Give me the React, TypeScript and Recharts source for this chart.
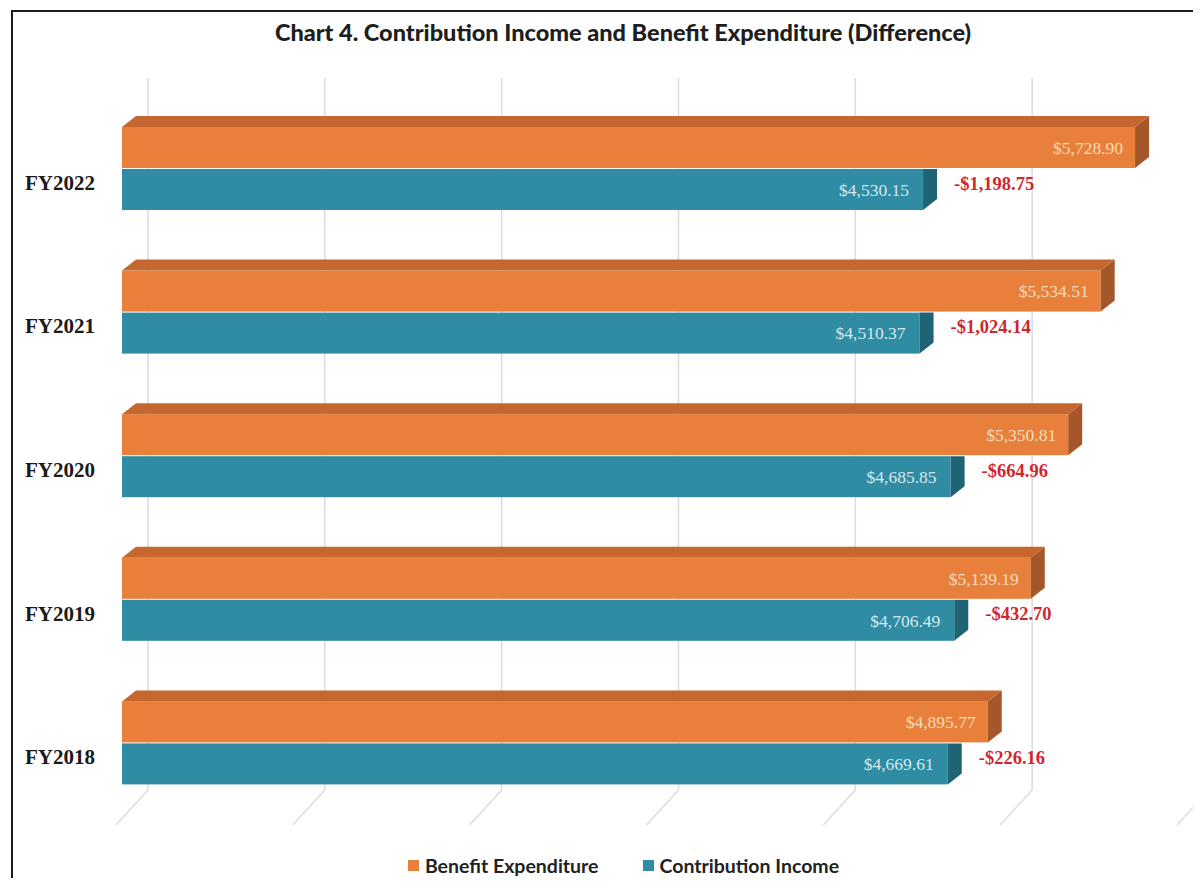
import { BarChart, Bar, XAxis, YAxis, CartesianGrid, LabelList, Legend } from 'recharts'

const years = ['FY2018', 'FY2019', 'FY2020', 'FY2021', 'FY2022']
const benefitExpenditure = [4895.77, 5139.19, 5350.81, 5534.51, 5728.9]
const contributionIncome = [4669.61, 4706.49, 4685.85, 4510.37, 4530.15]
const xTicks = [0, 1000, 2000, 3000, 4000, 5000, 6000]

const ORANGE = { face: '#e8803b', top: '#c6672f', side: '#a65729' }
const TEAL = { face: '#2f8ca2', side: '#1f6475' }

// fake 3d: bar depth and how far the back wall sits behind the bars
const DX = 14
const DY = 11
const WALL = 26

const data = years.map((year, i) => ({
  year,
  benefit: benefitExpenditure[i],
  contribution: contributionIncome[i],
  difference: Math.round((contributionIncome[i] - benefitExpenditure[i]) * 100) / 100,
}))

const money = (v: number) =>
  (v < 0 ? '-' : '') +
  '$' +
  Math.abs(v).toLocaleString('en-US', { minimumFractionDigits: 2, maximumFractionDigits: 2 })

const BenefitBar = (props: any) => {
  const { x, y, width, height } = props
  const r = x + width
  return (
    <g>
      <rect x={x} y={y} width={width} height={height} fill={ORANGE.face} />
      <polygon points={`${x},${y} ${x + DX},${y - DY} ${r + DX},${y - DY} ${r},${y}`} fill={ORANGE.top} />
      <polygon
        points={`${r},${y} ${r + DX},${y - DY} ${r + DX},${y + height - DY} ${r},${y + height}`}
        fill={ORANGE.side}
      />
    </g>
  )
}

// top face is hidden under the orange bar, only the end cap shows
const ContributionBar = (props: any) => {
  const { x, y, width, height } = props
  const r = x + width
  return (
    <g>
      <rect x={x} y={y} width={width} height={height} fill={TEAL.face} />
      <polygon
        points={`${r},${y} ${r + DX},${y} ${r + DX},${y + height - DY} ${r},${y + height}`}
        fill={TEAL.side}
      />
    </g>
  )
}

const WallLine = (props: any) => {
  const { x1, y1, y2, key } = props
  const bx = x1 + WALL
  const floor = y2 - 25
  return (
    <path
      key={key}
      d={`M${bx},${y1 - 19} L${bx},${floor} L${bx - 32},${floor + 35}`}
      stroke="#dcdcdc"
      strokeWidth={1.5}
      fill="none"
    />
  )
}

const DiffLabel = (props: any) => {
  const vb = props.viewBox ?? props
  const { x, y, width, height } = vb
  return (
    <text
      x={x + width + 31}
      y={y + height / 2 - 6}
      dominantBaseline="central"
      fill="#d0262f"
      fontFamily="'Liberation Serif', serif"
      fontWeight={700}
      fontSize={18.5}
    >
      {money(props.value)}
    </text>
  )
}

const YearTick = (props: any) => {
  const { x, y, payload } = props
  return (
    <text
      x={x - 19}
      y={y + 14}
      textAnchor="end"
      dominantBaseline="central"
      fill="#1a1a1a"
      fontFamily="'Liberation Serif', serif"
      fontWeight={700}
      fontSize={21}
    >
      {payload.value}
    </text>
  )
}

const legendItems = [
  { label: 'Benefit Expenditure', color: ORANGE.face },
  { label: 'Contribution Income', color: TEAL.face },
]

const ChartLegend = () => (
  <div
    style={{
      display: 'flex',
      justifyContent: 'center',
      alignItems: 'center',
      gap: 44,
      height: 24,
      paddingLeft: 64,
      fontFamily: 'Lato, sans-serif',
      fontWeight: 700,
      fontSize: 19.5,
      color: '#222',
    }}
  >
    {legendItems.map((it) => (
      <div key={it.label} style={{ display: 'flex', alignItems: 'center', gap: 6 }}>
        <span style={{ width: 11, height: 11, background: it.color, display: 'inline-block' }} />
        <span>{it.label}</span>
      </div>
    ))}
  </div>
)

export default function App() {
  return (
    <div style={{ margin: -8, position: 'relative', width: 1200, height: 886, background: '#fff', overflow: 'hidden' }}>
      <div
        style={{
          position: 'absolute',
          left: 11,
          top: 10,
          width: 1200,
          height: 900,
          borderTop: '2.5px solid #1c1c1c',
          borderLeft: '2.5px solid #1c1c1c',
        }}
      />
      <div
        style={{
          position: 'absolute',
          left: 0,
          top: 18,
          width: 1246,
          textAlign: 'center',
          fontFamily: 'Lato, sans-serif',
          fontWeight: 900,
          fontSize: 23.5,
          color: '#1e1e1e',
        }}
      >
        Chart 4. Contribution Income and Benefit Expenditure (Difference)
      </div>
      <div style={{ position: 'absolute', left: 0, top: 0 }}>
        <BarChart
          width={1200}
          height={886}
          data={data}
          layout="vertical"
          margin={{ top: 97, right: 17, bottom: 47, left: 0 }}
          barSize={41}
          barGap={1}
        >
          <CartesianGrid horizontal={false} vertical={WallLine} />
          <XAxis type="number" domain={[0, 6000]} ticks={xTicks} hide />
          <YAxis
            type="category"
            dataKey="year"
            reversed
            width={122}
            axisLine={false}
            tickLine={false}
            tick={YearTick}
          />
          <Legend verticalAlign="bottom" height={24} wrapperStyle={{ bottom: 9 }} content={ChartLegend} />
          <Bar dataKey="benefit" name="Benefit Expenditure" fill={ORANGE.face} shape={BenefitBar} isAnimationActive={false}>
            <LabelList
              dataKey="benefit"
              position="insideRight"
              offset={12}
              formatter={(v: any) => money(Number(v))}
              fill="#f7dcb9"
              fontFamily="'Liberation Serif', serif"
              fontSize={17.5}
            />
          </Bar>
          <Bar
            dataKey="contribution"
            name="Contribution Income"
            fill={TEAL.face}
            shape={ContributionBar}
            isAnimationActive={false}
          >
            <LabelList
              dataKey="contribution"
              position="insideRight"
              offset={14}
              formatter={(v: any) => money(Number(v))}
              fill="#d6e9ef"
              fontFamily="'Liberation Serif', serif"
              fontSize={17.5}
            />
            <LabelList dataKey="difference" content={DiffLabel} />
          </Bar>
        </BarChart>
      </div>
    </div>
  )
}
